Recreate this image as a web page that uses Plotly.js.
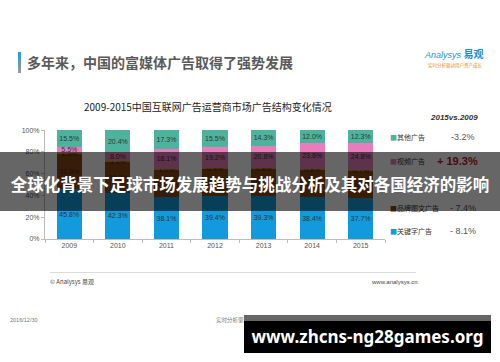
<!DOCTYPE html>
<html><head><meta charset="utf-8">
<script src="https://cdn.plot.ly/plotly-3.0.1.min.js"></script>
<style>
body{margin:0;background:#fff;}
#wrap{position:relative;width:500px;height:362px;background:#fff;overflow:hidden;font-family:"Noto Sans CJK SC","Noto Sans",sans-serif;}
#chart{position:absolute;left:0;top:0;width:500px;height:362px;}
.ov{position:absolute;pointer-events:none;white-space:nowrap;}
</style>
</head><body>
<div id="wrap">
<div id="chart"></div>
<div class="ov" style="left:18px;top:52px;width:3px;height:21px;background:linear-gradient(#1e9be0,#9a9a9a);"></div>
<div class="ov" style="left:27px;top:51px;font-size:14px;line-height:22px;font-weight:bold;color:#5a5a5a;">多年来，中国的富媒体广告取得了强势发展</div>
<div class="ov" style="left:425px;top:48px;font-size:9px;line-height:12px;color:#1e8fd6;font-style:italic;font-family:'Liberation Sans',sans-serif;">Analysys <span style="font-style:normal;font-weight:bold;font-size:10px;font-family:'Noto Sans CJK SC';">易观</span></div>
<div class="ov" style="left:428px;top:62px;font-size:4.5px;line-height:6px;color:#e8902a;">实时分析驱动用户资产成长</div>
<div class="ov" style="left:50px;top:272px;width:366px;height:1px;background:#dcdcdc;"></div>
<div class="ov" style="left:50px;top:278px;font-size:6px;line-height:8px;color:#444;">© Analysys 易观</div>
<div class="ov" style="left:372px;top:278px;font-size:6px;line-height:8px;color:#444;font-family:'Liberation Sans',sans-serif;">www.analysys.cn</div>
<div class="ov" style="left:10px;top:317px;font-size:5.5px;line-height:7px;color:#777;font-family:'Liberation Sans',sans-serif;">2016/12/30</div>
<div class="ov" style="left:216px;top:317px;font-size:5.5px;line-height:7px;color:#777;">实时分析驱动用户资产成长</div>
<div class="ov" style="left:485px;top:317px;font-size:5.5px;line-height:7px;color:#777;font-family:'Liberation Sans',sans-serif;">39</div>
<div class="ov" style="left:0;top:152px;width:500px;height:59px;background:rgba(0,0,0,0.6);"></div>
<div class="ov" style="left:0;top:172px;width:500px;text-align:center;font-size:16.5px;line-height:24px;font-weight:bold;color:#fff;">全球化背景下足球市场发展趋势与挑战分析及其对各国经济的影响</div>
<div class="ov" style="left:244px;top:315px;width:247px;height:6px;background:#666;"></div>
<div class="ov" style="left:244px;top:321px;width:247px;height:32px;background:#000;"></div>
<div class="ov" style="left:244px;top:321px;width:247px;text-align:center;font-size:17px;line-height:32px;font-weight:bold;color:#fff;font-family:'Noto Sans',sans-serif;">www.zhcns-ng28games.org</div>
</div>
<script>
const years = ['2009','2010','2011','2012','2013','2014','2015'];
const keyword = [45.8, 42.3, 38.1, 39.4, 39.3, 38.4, 37.7];
const brand = [31.9, 28.2, 25.5, 25.0, 24.8, 25.2, 24.5];
const textlink = [1.3, 1.1, 1.0, 0.9, 0.8, 0.8, 0.7];
const video = [5.5, 8.0, 18.1, 19.2, 20.8, 23.6, 24.8];
const other = [15.5, 20.4, 17.3, 15.5, 14.3, 12.0, 12.3];
const seriesNames = ['关键字广告','品牌图文广告','固定文字链广告','视频广告','其他广告'];
const changes = ['- 8.1%','- 7.4%','- 0.6%','+ 19.3%','-3.2%'];
const yTicks = [0,20,40,60,80,100];

const colors = ['#129bdc','#8b4612','#c9a106','#e97dbb','#4eb39c'];
const seriesData = [keyword, brand, textlink, video, other];

const L=45, R=385, T=130, B=239;
const px = x => (x-L)/(R-L);
const py = y => (B-y)/(B-T);

const traces = seriesData.map((d,i)=>({
  type:'bar', x:years, y:d, name:seriesNames[i],
  marker:{color:colors[i]},
  texttemplate:'%{y:.1f}%', textposition:'inside', insidetextanchor:'middle', textangle:0,
  textfont:{size:7,color:'#333',family:'Liberation Sans, sans-serif'},
  constraintext:'none', cliponaxis:false, showlegend:false, hoverinfo:'skip'
}));

// legend rows visible in the reference (the 固定文字链广告 row is hidden behind the banner)
const legendY = [231,208,null,161,137];
const ann = [];
ann.push({xref:'paper',yref:'paper',x:px(208),y:py(106),text:'2009-2015中国互联网广告运营商市场广告结构变化情况',showarrow:false,xanchor:'center',yanchor:'middle',font:{size:10,color:'#222',family:'Noto Sans CJK SC'}});
ann.push({xref:'paper',yref:'paper',x:px(454),y:py(117),text:'<b><i>2015vs.2009</i></b>',showarrow:false,xanchor:'center',yanchor:'middle',font:{size:8,color:'#333',family:'Liberation Sans, sans-serif'}});
seriesNames.forEach((n,i)=>{
  if(legendY[i]===null) return;
  ann.push({xref:'paper',yref:'paper',x:px(388),y:py(legendY[i]),text:'<span style="color:'+colors[i]+'">■</span>'+n,showarrow:false,xanchor:'left',yanchor:'middle',font:{size:7,color:'#333',family:'Noto Sans CJK SC'}});
  const big = i===3;
  ann.push({xref:'paper',yref:'paper',x:px(big?458:463),y:py(legendY[i]),text:big?'<b>'+changes[i]+'</b>':changes[i],showarrow:false,xanchor:'center',yanchor:'middle',font:{size:big?11:9,color:big?'#b01c1c':'#555',family:'Liberation Sans, sans-serif'}});
});

const layout = {
  width:500, height:362, margin:{l:L,r:500-R,t:T,b:362-B,pad:0},
  paper_bgcolor:'rgba(0,0,0,0)', plot_bgcolor:'rgba(0,0,0,0)',
  barmode:'stack', bargap:0.48, showlegend:false,
  uniformtext:{mode:'show',minsize:7},
  xaxis:{type:'category',showline:true,linecolor:'#bdbdbd',linewidth:1,ticks:'outside',tickson:'boundaries',ticklen:3,tickcolor:'#bdbdbd',
    tickfont:{size:7,color:'#555',family:'Liberation Sans, sans-serif'},showgrid:false,zeroline:false,fixedrange:true},
  yaxis:{range:[0,100.05],tickvals:yTicks,ticktext:yTicks.map(v=>v+'%'),showline:true,linecolor:'#bdbdbd',ticks:'outside',ticklen:3,tickcolor:'#bdbdbd',
    tickfont:{size:7,color:'#555',family:'Liberation Sans, sans-serif'},showgrid:false,zeroline:false,fixedrange:true},
  annotations:ann
};
Plotly.newPlot('chart', traces, layout, {displayModeBar:false, staticPlot:true});
</script>
</body></html>
